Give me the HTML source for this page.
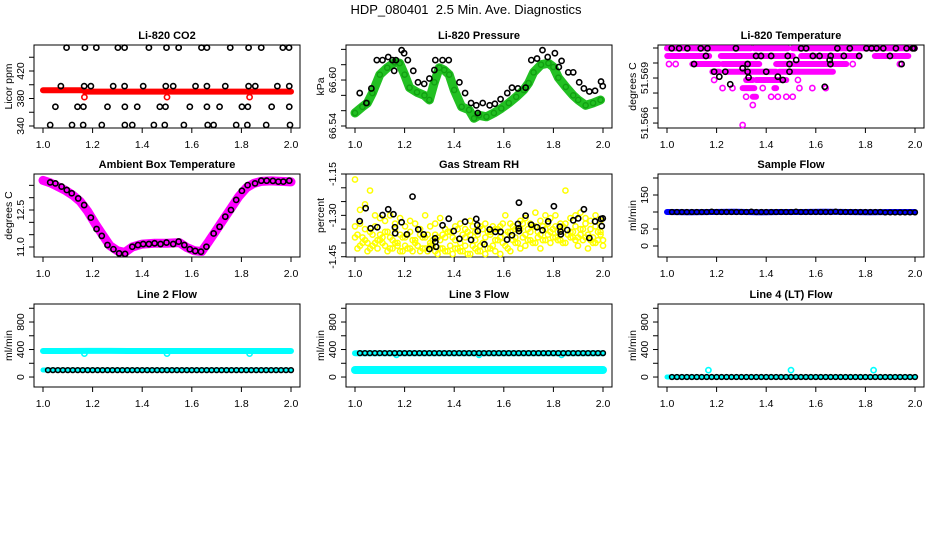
<!DOCTYPE html>
<html><head><meta charset="utf-8">
<style>
html,body{margin:0;padding:0;background:#fff;}
svg{display:block;font-family:"Liberation Sans",Arial,sans-serif;}
</style></head>
<body>
<svg id="chart" xmlns="http://www.w3.org/2000/svg" width="936" height="540" viewBox="0 0 936 540">
<rect x="0" y="0" width="936" height="540" fill="#fff"/>
<text x="466" y="14" text-anchor="middle" font-size="13">HDP_080401&#160; 2.5 Min. Ave. Diagnostics</text>
</svg>
<script>
// ---- data ----
const xTicks=[1.0,1.2,1.4,1.6,1.8,2.0];
const xTickLabels=["1.0","1.2","1.4","1.6","1.8","2.0"];

// CO2
const co2TopX=[1.095,1.169,1.215,1.302,1.329,1.427,1.498,1.547,1.639,1.661,1.755,1.829,1.880,1.967,1.992];
const co2TopY=[454,454,454,454,454,454,454,454,454,454,454,454,454,454,454];
const co2HiX=[1.072,1.166,1.193,1.283,1.329,1.404,1.495,1.525,1.615,1.661,1.735,1.829,1.856,1.945,1.993];
const co2HiY=[398,398,398,398,398,398,398,398,398,398,398,398,398,398,398];
const co2MidX=[1.050,1.139,1.163,1.260,1.330,1.380,1.471,1.494,1.592,1.661,1.712,1.802,1.826,1.922,1.993];
const co2MidY=[368,368,368,368,368,368,368,368,368,368,368,368,368,368,368];
const co2LoX=[1.029,1.117,1.162,1.237,1.330,1.360,1.447,1.491,1.568,1.664,1.688,1.779,1.824,1.900,1.996];
const co2LoY=[341.5,341.5,341.5,341.5,341.5,341.5,341.5,341.5,341.5,341.5,341.5,341.5,341.5,341.5,341.5];
const co2RedX=[1.0,1.05,1.10,1.16,1.17,1.25,1.35,1.45,1.55,1.65,1.75,1.85,1.95,2.0];
const co2RedY=[392,392,392,392,390,390,390,390,390,390,390,390,390,390];
const co2RedOutX=[1.167,1.5,1.833];
const co2RedOutY=[382,382,382];

// Pressure
const presGreenX=[1.00,1.03,1.05,1.07,1.10,1.13,1.16,1.18,1.20,1.22,1.25,1.28,1.30,1.32,1.34,1.36,1.38,1.40,1.43,1.46,1.48,1.50,1.53,1.56,1.59,1.62,1.65,1.68,1.70,1.72,1.75,1.78,1.80,1.82,1.85,1.88,1.90,1.93,1.96,1.99];
const presGreenY=[66.557,66.565,66.570,66.583,66.607,66.616,66.623,66.622,66.607,66.590,66.584,66.580,66.574,66.597,66.616,66.613,66.607,66.587,66.565,66.561,66.550,66.554,66.552,66.557,66.563,66.570,66.578,66.587,66.596,66.610,66.620,66.622,66.617,66.603,66.591,66.580,66.574,66.567,66.570,66.574];
const presBlackX=[1.019,1.046,1.066,1.088,1.111,1.134,1.151,1.158,1.165,1.188,1.198,1.213,1.235,1.254,1.279,1.300,1.320,1.324,1.353,1.378,1.421,1.444,1.468,1.489,1.495,1.515,1.543,1.564,1.587,1.614,1.633,1.657,1.688,1.711,1.734,1.756,1.777,1.806,1.822,1.833,1.860,1.880,1.904,1.923,1.945,1.968,1.992,1.999];
const presBlackY=[66.583,66.570,66.589,66.626,66.626,66.630,66.626,66.612,66.626,66.639,66.635,66.626,66.612,66.597,66.595,66.602,66.613,66.626,66.626,66.626,66.597,66.583,66.570,66.567,66.557,66.570,66.567,66.569,66.575,66.583,66.590,66.589,66.590,66.626,66.628,66.639,66.630,66.635,66.617,66.625,66.610,66.610,66.597,66.589,66.585,66.586,66.598,66.592];

// Temperature
const tempLevels=[51.57098,51.57047,51.56993,51.56942,51.56887,51.56833,51.56775,51.5672,51.56587];
const tempRuns=[
 [1.0,1.338,1.352,1.487,1.507,2.0],
 [1.001,1.170,1.217,1.507,1.541,1.777,1.838,1.973],
 [1.008,1.008,1.035,1.035,1.102,1.211,1.224,1.372,1.440,1.723,1.749,1.749,1.939,1.939],
 [1.183,1.211,1.238,1.440,1.453,1.669],
 [1.190,1.190,1.319,1.346,1.359,1.481,1.528,1.528],
 [1.224,1.224,1.264,1.264,1.305,1.352,1.386,1.386,1.433,1.440,1.534,1.534,1.586,1.586,1.640,1.640],
 [1.319,1.319,1.346,1.359,1.420,1.420,1.447,1.447,1.481,1.481,1.507,1.507],
 [1.346,1.346],
 [1.305,1.305]];
const tempBlackX=[1.019,1.049,1.082,1.136,1.163,1.278,1.157,1.109,1.190,1.211,1.235,1.255,1.305,1.325,1.325,1.329,1.359,1.379,1.400,1.420,1.447,1.467,1.487,1.494,1.494,1.521,1.541,1.561,1.588,1.615,1.636,1.656,1.659,1.660,1.687,1.713,1.737,1.775,1.804,1.825,1.845,1.872,1.899,1.923,1.946,1.966,1.991,1.997];
const tempBlackY=[51.57098,51.57098,51.57098,51.57098,51.57098,51.57098,51.57047,51.56993,51.56942,51.56909,51.56942,51.56858,51.56965,51.56993,51.56942,51.56904,51.57047,51.57047,51.56942,51.57047,51.56909,51.56887,51.57047,51.56993,51.56942,51.5702,51.57098,51.57098,51.57047,51.57047,51.56842,51.5702,51.56993,51.57047,51.57098,51.57047,51.57098,51.57047,51.57098,51.57098,51.57098,51.57098,51.57047,51.57098,51.56993,51.57098,51.57098,51.57098];

// Ambient
const ambMagX=[1.0,1.03,1.06,1.09,1.12,1.15,1.18,1.21,1.24,1.27,1.30,1.33,1.36,1.40,1.45,1.50,1.55,1.58,1.61,1.64,1.67,1.70,1.73,1.76,1.79,1.82,1.85,1.88,1.92,1.96,2.0];
const ambMagY=[13.70,13.60,13.45,13.30,13.10,12.85,12.45,11.95,11.50,11.05,10.85,10.78,11.00,11.12,11.15,11.15,11.18,10.98,10.85,10.82,11.25,11.70,12.15,12.60,13.05,13.40,13.58,13.66,13.68,13.66,13.64];
const ambBlackX=[1.029,1.050,1.075,1.096,1.116,1.142,1.166,1.193,1.216,1.237,1.260,1.284,1.307,1.331,1.360,1.383,1.404,1.427,1.450,1.474,1.498,1.525,1.547,1.570,1.592,1.614,1.637,1.659,1.688,1.712,1.735,1.758,1.779,1.802,1.825,1.855,1.880,1.902,1.927,1.949,1.969,1.993];
const ambBlackY=[13.62,13.58,13.45,13.31,13.18,12.97,12.70,12.19,11.73,11.45,11.08,10.91,10.74,10.72,11.01,11.08,11.12,11.12,11.15,11.12,11.18,11.12,11.22,11.08,10.91,10.84,10.81,11.01,11.55,11.82,12.23,12.50,12.91,13.28,13.51,13.58,13.69,13.69,13.68,13.65,13.65,13.69];

// RH
const rhYellowA=[-1.17,-1.28,-1.26,-1.21,-1.30,-1.31,-1.32,-1.30,-1.33,-1.31,-1.34,-1.32,-1.33,-1.35,-1.30,-1.34,-1.33,-1.31,-1.35,-1.36,-1.34,-1.33,-1.35,-1.32,-1.36,-1.34,-1.33,-1.36,-1.35,-1.34,-1.30,-1.33,-1.35,-1.32,-1.31,-1.33,-1.29,-1.32,-1.30,-1.31,-1.30,-1.33,-1.21,-1.31,-1.30,-1.29,-1.31,-1.32,-1.30,-1.32];
const rhYellowB=[-1.34,-1.33,-1.35,-1.36,-1.34,-1.37,-1.36,-1.38,-1.35,-1.37,-1.38,-1.36,-1.39,-1.37,-1.38,-1.40,-1.37,-1.39,-1.38,-1.36,-1.39,-1.40,-1.38,-1.37,-1.39,-1.41,-1.38,-1.37,-1.39,-1.38,-1.37,-1.36,-1.38,-1.35,-1.37,-1.36,-1.34,-1.37,-1.35,-1.36,-1.34,-1.35,-1.33,-1.36,-1.34,-1.35,-1.33,-1.35,-1.34,-1.36];
const rhYellowC=[-1.38,-1.41,-1.39,-1.42,-1.40,-1.39,-1.41,-1.42,-1.40,-1.43,-1.41,-1.42,-1.40,-1.43,-1.42,-1.41,-1.43,-1.42,-1.43,-1.41,-1.42,-1.43,-1.41,-1.44,-1.42,-1.43,-1.44,-1.42,-1.43,-1.44,-1.41,-1.43,-1.40,-1.42,-1.41,-1.39,-1.40,-1.42,-1.39,-1.40,-1.38,-1.39,-1.40,-1.38,-1.39,-1.37,-1.38,-1.39,-1.40,-1.37];
const rhBlackX=[1.019,1.043,1.063,1.090,1.111,1.134,1.155,1.161,1.162,1.188,1.209,1.232,1.255,1.277,1.300,1.323,1.324,1.327,1.353,1.378,1.398,1.421,1.444,1.468,1.489,1.493,1.495,1.522,1.543,1.566,1.587,1.613,1.633,1.657,1.660,1.661,1.661,1.688,1.711,1.734,1.756,1.779,1.802,1.826,1.829,1.830,1.856,1.880,1.900,1.923,1.945,1.968,1.992,1.995,1.999];
const rhBlackY=[-1.321,-1.274,-1.347,-1.343,-1.299,-1.278,-1.296,-1.343,-1.365,-1.325,-1.369,-1.232,-1.351,-1.369,-1.422,-1.383,-1.396,-1.414,-1.336,-1.312,-1.357,-1.385,-1.323,-1.389,-1.313,-1.335,-1.357,-1.405,-1.351,-1.360,-1.360,-1.388,-1.372,-1.331,-1.347,-1.357,-1.254,-1.301,-1.334,-1.343,-1.354,-1.322,-1.267,-1.341,-1.359,-1.369,-1.353,-1.318,-1.311,-1.278,-1.382,-1.322,-1.313,-1.339,-1.311];

// Flows
const sampleBlue=[100,99,100,101,99,100,100,101,100,99,100,100];
const sampleBlack=[100,100,100,100,100,100,100,100,101,100,100,100,100,100,100,100,101,100,100,100,100,100,100,100,100,101,100,100,100,100,100,100,100,101,100,100,100,100,100,100,100,100,100,99,99,99,99,99,99,99];
const line2CyanHigh=[378,378,380,380,378,378,378,378,378,378,378,378];
const line2CyanLow=[102,102,102,102,102,102,102,102,102,102,102,102];
const line2Black=[100,100,100,100,100,100,100,100,100,100,100,100,100,100,100,100,100,100,100,100,100,100,100,100,100,100,100,100,100,100,100,100,100,100,100,100,100,100,100,100,100,100,100,100,100,100,100,100,100,100];
const line2OutX=[1.167,1.5,1.833];
const line2OutY=[340,340,340];
const line3CyanHigh=[345,345,345,345,345,345,345,345,345,345,345,345];
const line3CyanLow=[102,102,102,102,102,102,102,102,102,102,102,102];
const line3Black=[348,348,348,348,348,348,348,348,348,348,348,348,348,348,348,348,348,348,348,348,348,348,348,348,348,348,348,348,348,348,348,348,348,348,348,348,348,348,348,348,348,348,348,348,348,348,348,348,348,348];
const line3OutX=[1.167,1.5,1.833];
const line3OutY=[322,322,322];
const line4Cyan=[0,0,0,0,0,0,0,0,0,0,0,0];
const line4Black=[0,0,0,0,0,0,0,0,0,0,0,0,0,0,0,0,0,0,0,0,0,0,0,0,0,0,0,0,0,0,0,0,0,0,0,0,0,0,0,0,0,0,0,0,0,0,0,0,0,0];
const line4OutX=[1.167,1.5,1.833];
const line4OutY=[100,100,100];

// ---- rendering ----
const NS="http://www.w3.org/2000/svg";
const svg=document.getElementById('chart');
const COLS=[34,346,658], ROWS=[45,174,304], W=266, H=83;
function mk(tag,attrs,parent){const e=document.createElementNS(NS,tag);for(const k in attrs)e.setAttribute(k,attrs[k]);parent.appendChild(e);return e;}
function evenX(n,a,b){const r=[];for(let i=0;i<n;i++)r.push(a+(b-a)*i/(n-1));return r;}

function panel(c,r,key,title,ylab,dom,ticks,labels){
  const L=COLS[c],T=ROWS[r];
  const g=mk('g',{},svg);
  
  
  const sx=x=>L+9+(x-1)*248;
  const sy=v=>T+H-(v-dom[0])/(dom[1]-dom[0])*H;
  const t=mk('text',{x:L+W/2,y:T-6,'text-anchor':'middle','font-size':11,'font-weight':'bold'},g);
  t.textContent=title;
  
  
  const box=mk('rect',{x:L,y:T,width:W,height:H,fill:'none',stroke:'#000','stroke-width':1},g);
  
  
  xTicks.forEach((v,i)=>{
    const tk=mk('line',{x1:sx(v),x2:sx(v),y1:T+H,y2:T+H+5,stroke:'#000'},g);
    
    
    const tl=mk('text',{x:sx(v),y:T+H+20,'text-anchor':'middle','font-size':10.5},g);
    tl.textContent=xTickLabels[i];
    
    
  });
  ticks.forEach((v,i)=>{
    const y=sy(v);
    const tk=mk('line',{x1:L-5,x2:L,y1:y,y2:y,stroke:'#000'},g);
    
    
    if(labels[i]){
      const tl=mk('text',{x:0,y:0,'text-anchor':'middle','font-size':10.5,transform:`translate(${L-10},${y}) rotate(-90)`},g);
      tl.textContent=labels[i];
      
      
    }
  });
  const yt=mk('text',{x:0,y:0,'text-anchor':'middle','font-size':10.5,transform:`translate(${L-22},${T+H/2}) rotate(-90)`},g);
  yt.textContent=ylab;
  
  
  return {g,sx,sy};
}
function pts(p,xs,ys,color,name,r,sw){
  r=r||2.6;sw=sw||1.6;
  for(let i=0;i<ys.length;i++){
    const c=mk('circle',{cx:p.sx(xs[i]),cy:p.sy(ys[i]),r:r,fill:'none',stroke:color,'stroke-width':sw},p.g);
    
    
  }
}
function band(p,xs,ys,color,w,name){
  const s=ys.map((v,i)=>p.sx(xs[i]).toFixed(1)+','+p.sy(v).toFixed(1)).join(' ');
  const l=mk('polyline',{points:s,fill:'none',stroke:color,'stroke-width':w,'stroke-linejoin':'round','stroke-linecap':'round'},p.g);
  
  
}

// Panel 1 CO2
let p=panel(0,0,'co2','Li-820 CO2','Licor ppm',[337.1,457.8],[340,360,380,400,420,440],['340','','380','','420','']);
band(p,co2RedX,co2RedY,'#ff0000',6,'co2-red-band');
pts(p,co2RedOutX,co2RedOutY,'#ff0000','co2-red-point');
pts(p,co2TopX,co2TopY,'#000','co2-point');
pts(p,co2HiX,co2HiY,'#000','co2-point');
pts(p,co2MidX,co2MidY,'#000','co2-point');
pts(p,co2LoX,co2LoY,'#000','co2-point');

// Panel 2 Pressure
p=panel(1,0,'pressure','Li-820 Pressure','kPa',[66.5374,66.6457],[66.54,66.56,66.58,66.60,66.62,66.64],['66.54','','','66.60','','']);
band(p,presGreenX,presGreenY,'#22c022',9,'pressure-green-band');
pts(p,presGreenX,presGreenY,'#11a011','pressure-green-point',2.6,1.4);
pts(p,presBlackX,presBlackY,'#000','pressure-point');

// Panel 3 Temperature
p=panel(2,0,'li820-temp','Li-820 Temperature','degrees C',[51.56567,51.5712],[51.566,51.567,51.568,51.569,51.570,51.571],['51.566','','','51.569','','']);
tempRuns.forEach((runs,li)=>{
  const y=p.sy(tempLevels[li]);
  for(let k=0;k<runs.length;k+=2){
    const x0=p.sx(runs[k]),x1=p.sx(runs[k+1]);
    if(x1-x0>1){
      const ln=mk('line',{x1:x0,x2:x1,y1:y,y2:y,stroke:'#ff00ff','stroke-width':6,'stroke-linecap':'round'},p.g);
      
      
    } else {
      const c=mk('circle',{cx:x0,cy:y,r:2.6,fill:'none',stroke:'#ff00ff','stroke-width':1.6},p.g);
      
      
    }
  }
});
pts(p,tempBlackX,tempBlackY,'#000','li820-temp-point');

// Panel 4 Ambient
p=panel(0,1,'ambient','Ambient Box Temperature','degrees C',[10.595,13.96],[11.0,11.5,12.0,12.5,13.0,13.5],['11.0','','','12.5','','']);
band(p,ambMagX,ambMagY,'#ff00ff',9,'ambient-magenta-band');
pts(p,ambBlackX,ambBlackY,'#000','ambient-point');

// Panel 5 RH
p=panel(1,1,'rh','Gas Stream RH','percent',[-1.451,-1.150],[-1.45,-1.40,-1.35,-1.30,-1.25,-1.20,-1.15],['-1.45','','','-1.30','','','-1.15']);
const rhX=evenX(50,1.0,1.99);
const rhX2=evenX(50,1.01,2.0);
pts(p,rhX,rhYellowA,'#ffff00','rh-yellow-point',2.6,1.5);
pts(p,rhX,rhYellowB,'#ffff00','rh-yellow-point',2.6,1.5);
pts(p,rhX,rhYellowC,'#ffff00','rh-yellow-point',2.6,1.5);
pts(p,rhX2,rhYellowB.map((v,i)=>rhYellowC[(i+7)%50]),'#ffff00','rh-yellow-point',2.6,1.5);
pts(p,rhX2,rhYellowA.map((v,i)=>rhYellowB[(i+13)%50]),'#ffff00','rh-yellow-point',2.6,1.5);
pts(p,rhBlackX,rhBlackY,'#000','rh-point');

// Panel 6 Sample flow
p=panel(2,1,'sample-flow','Sample Flow','ml/min',[-32.4,211.8],[0,50,100,150,200],['0','50','','150','']);
band(p,evenX(12,1.0,2.0),sampleBlue,'#0000ff',6,'sample-flow-blue-band');
pts(p,evenX(50,1.02,2.0),sampleBlack,'#000','sample-flow-point',2.4,1.5);

// Row 3
const flowDom=[-145,1062], flowTicks=[0,200,400,600,800,1000], flowLabels=['0','','400','','800',''];
p=panel(0,2,'line2','Line 2 Flow','ml/min',flowDom,flowTicks,flowLabels);
band(p,evenX(12,1.0,2.0),line2CyanHigh,'#00ffff',6,'line2-cyan-high-band');
band(p,evenX(12,1.0,2.0),line2CyanLow,'#00ffff',5,'line2-cyan-low-band');
pts(p,line2OutX,line2OutY,'#00ffff','line2-cyan-outlier');
pts(p,evenX(50,1.02,2.0),line2Black,'#000','line2-point',2.4,1.5);

p=panel(1,2,'line3','Line 3 Flow','ml/min',flowDom,flowTicks,flowLabels);
band(p,evenX(12,1.0,2.0),line3CyanHigh,'#00ffff',6,'line3-cyan-high-band');
band(p,evenX(12,1.0,2.0),line3CyanLow,'#00ffff',8,'line3-cyan-low-band');
pts(p,line3OutX,line3OutY,'#00ffff','line3-cyan-outlier');
pts(p,evenX(50,1.02,2.0),line3Black,'#000','line3-point',2.4,1.5);

p=panel(2,2,'line4','Line 4 (LT) Flow','ml/min',flowDom,flowTicks,flowLabels);
band(p,evenX(12,1.0,2.0),line4Cyan,'#00ffff',5,'line4-cyan-band');
pts(p,line4OutX,line4OutY,'#00ffff','line4-cyan-outlier');
pts(p,evenX(50,1.02,2.0),line4Black,'#000','line4-point',2.4,1.5);
</script>
</body></html>
